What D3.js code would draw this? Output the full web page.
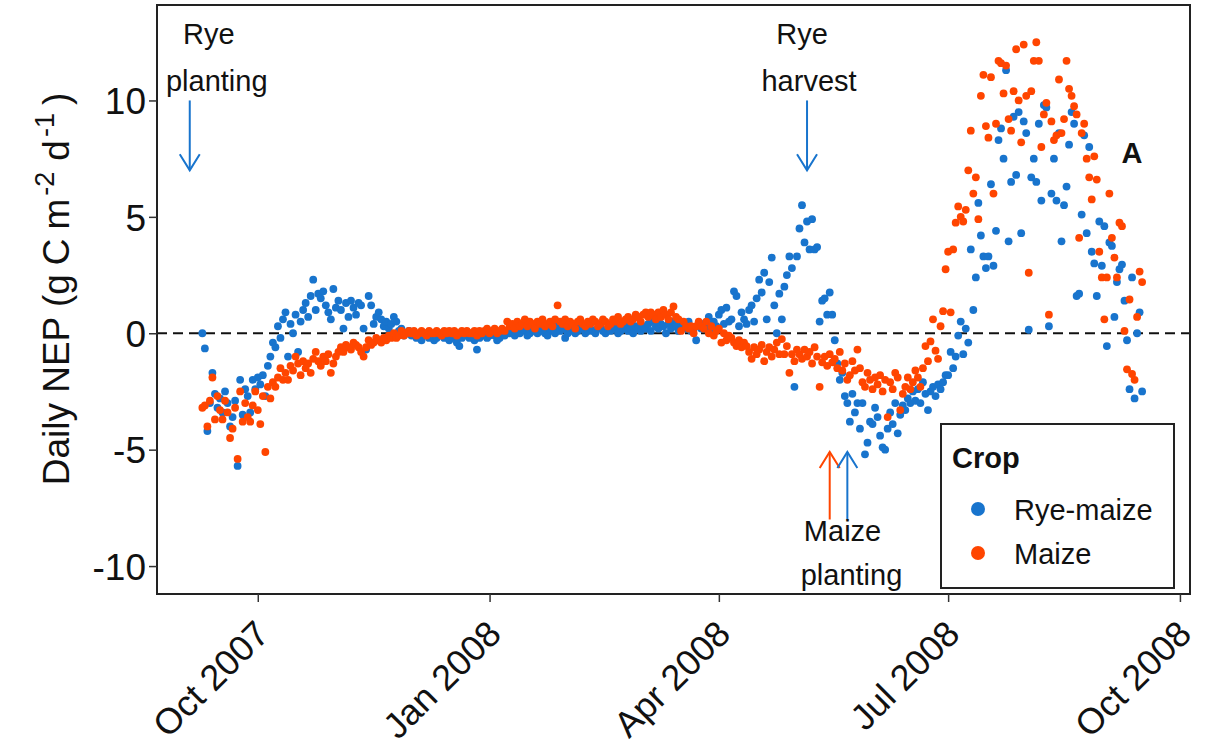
<!DOCTYPE html>
<html>
<head>
<meta charset="utf-8">
<script src="https://cdn.jsdelivr.net/npm/d3@7/dist/d3.min.js"></script>
<style>
  body { margin: 0; background: #ffffff; }
  svg { display: block; }
  text { font-family: Arial, "Liberation Sans", sans-serif; fill: #111; }
</style>
</head>
<body>
<svg id="chart" width="1209" height="747"></svg>
<script>
// Daily net ecosystem production, one value per day from the start date on.
const startDate = "2007-09-09";

// Rye-maize rotation (g C m-2 d-1), rows of ten days
const ryeMaize = [
  0.0, -0.65, -4.2, -3.0, -1.7, -2.6, -3.2, -2.8, -3.4, -2.5,
  -3.0, -4.0, -3.6, -2.9, -5.7, -2.0, -3.5, -2.4, -2.7, -3.4,
  -2.0, -2.4, -1.9, -2.2, -1.8, -2.7, -1.4, -1.0, -0.4, -0.6,
  0.3, -0.2, 0.6, 0.9, -1.0, 0.4, 0.0, 0.8, -0.8, 0.5,
  1.0, 1.3, 0.7, 1.6, 2.3, 1.0, 1.7, 1.5, 1.8, 1.2,
  0.9, 0.6, 1.9, 1.1, 1.4, 1.0, 0.2, 1.3, 0.7, 1.4,
  1.1, 0.8, 1.3, 1.2, 0.2, -0.7, 1.6, 1.2, 0.4, 0.7,
  0.9, 0.6, 0.3, 0.5, 0.2, 0.4, 0.7, 0.5, 0.1, 0.2,
  -0.1, 0.0, 0.1, -0.1, 0.0, -0.2, -0.1, -0.3, -0.1, 0.0,
  -0.2, -0.1, -0.3, -0.2, 0.0, -0.1, -0.2, -0.1, -0.3, -0.2,
  -0.1, -0.4, -0.55, -0.2, -0.1, 0.0, -0.2, -0.1, -0.3, -0.7,
  -0.2, -0.1, 0.0, -0.2, -0.1, 0.0, -0.1, -0.3, -0.2, 0.0,
  -0.1, 0.1, 0.0, 0.2, -0.1, 0.1, 0.0, 0.2, 0.1, -0.1,
  0.0, 0.2, 0.1, 0.0, 0.3, 0.1, 0.0, -0.1, 0.2, 0.1,
  0.0, 0.3, 0.1, 0.2, -0.2, 0.0, 0.1, 0.2, 0.0, 0.1,
  0.3, 0.2, 0.0, 0.1, 0.2, 0.1, 0.0, 0.2, 0.3, 0.1,
  0.0, 0.2, 0.1, 0.3, 0.2, 0.0, 0.1, 0.2, 0.3, 0.1,
  0.2, 0.0, 0.3, 0.2, 0.1, 0.3, 0.2, 0.4, 0.1, 0.5,
  0.3, 0.2, 0.4, 0.3, 0.0, 0.4, 0.2, 0.5, 0.3, 0.1,
  0.4, 0.3, 0.2, 0.5, 0.1, 0.2, -0.3, 0.3, 0.2, 0.4,
  0.3, 0.7, 0.2, 0.5, 0.3, 0.8, 1.0, 0.4, 1.1, 0.5,
  0.6, 1.8, 1.6, 0.3, 0.9, 0.6, 0.4, 1.0, 1.2, 0.5,
  1.5, 2.3, 1.75, 2.6, 0.6, 2.2, 3.25, 1.2, 0.0, 1.7,
  0.6, 2.0, 2.5, 3.3, 2.8, -2.3, 3.3, 4.5, 5.5, 3.9,
  4.8, 3.6, 4.9, 3.6, 3.7, 0.5, 1.4, 1.5, 0.8, 1.75,
  0.8, -0.3, -1.3, -2.0, -1.7, -2.7, -3.0, -3.8, -2.6, -3.4,
  -3.0, -4.1, -3.0, -5.2, -4.7, -3.8, -3.9, -3.2, -3.6, -4.4,
  -4.9, -5.0, -4.1, -3.4, -3.9, -3.0, -4.3, -3.5, -3.1, -3.3,
  -2.8, -3.0, -2.5, -2.9, -2.4, -3.0, -2.1, -2.6, -3.3, -2.5,
  -2.3, -2.7, -2.2, -2.4, -2.1, -1.8, -1.8, -0.8, -1.5, -1.0,
  -0.1, 0.5, -0.9, 0.2, -0.4, 3.6, 1.0, 2.4, 5.6, 4.2,
  3.3, 2.8, 3.3, 6.4, 2.9, 4.4, 8.3, 8.8, 7.5, 11.3,
  3.95, 6.5, 9.3, 6.8, 9.5, 4.3, 9.1, 8.6, 0.15, 6.7,
  7.5, 6.5, 9.0, 5.7, 9.8, 9.7, 0.3, 6.0, 7.5, 5.7,
  8.6, 3.95, 5.5, 6.3, 8.1, 9.5, 9.0, 1.6, 1.7, 5.1,
  8.5, 4.3, 8.0, 3.5, 3.0, 1.6, 4.8, 2.9, 4.6, -0.55,
  3.9, 3.75, 0.7, 2.2, 2.75, 2.95, 1.4, -0.3, -2.4, 2.4,
  -2.8, 0.0, 0.9, -2.5
];

// Continuous maize (g C m-2 d-1), same days
const maize = [
  -3.2, -3.1, -4.0, -2.9, -1.9, -3.7, -2.7, -3.3, -3.7, -2.9,
  -3.4, -4.5, -4.1, -3.2, -5.4, -2.5, -3.8, -3.0, -3.6, -3.8,
  -3.1, -2.5, -3.3, -3.9, -2.7, -5.1, -2.3, -2.8, -2.1, -2.3,
  -1.9, -1.5, -2.0, -1.7, -2.0, -1.4, -1.6, -1.0, -1.3, -1.8,
  -1.2, -1.5, -1.3, -1.7, -1.1, -0.8, -1.2, -1.4, -1.0, -1.2,
  -0.9, -1.7, -1.3, -1.0, -0.8, -0.6, -0.8, -0.5, -0.6, -0.7,
  -0.4, -0.5, -0.6, -0.8, -1.0, -0.6, -0.3, -0.5, -0.4, -0.2,
  -0.3, -0.4, -0.2, -0.3, -0.1, -0.2, 0.0, -0.2, -0.1, 0.1,
  -0.1, 0.0, 0.1, 0.0, 0.1, -0.1, 0.0, 0.1, 0.0, -0.1,
  0.1, 0.0, 0.0, 0.1, 0.0, -0.1, 0.1, 0.0, 0.1, 0.0,
  0.1, -0.1, 0.0, 0.1, 0.0, 0.1, 0.0, 0.0, 0.1, -0.1,
  0.1, 0.0, 0.1, 0.2, 0.0, 0.1, 0.2, 0.0, 0.1, 0.2,
  0.1, 0.5, 0.3, 0.4, 0.2, 0.5, 0.3, 0.4, 0.6, 0.3,
  0.5, 0.4, 0.2, 0.5, 0.4, 0.6, 0.3, 0.4, 0.5, 0.3,
  0.6, 1.2, 0.5, 0.4, 0.6, 0.3, 0.5, 0.4, 0.2, 0.5,
  0.6, 0.4, 0.3, 0.5, 0.4, 0.6, 0.5, 0.3, 0.4, 0.6,
  0.5, 0.3, 0.4, 0.6, 0.5, 0.7, 0.4, 0.5, 0.6, 0.7,
  0.5, 0.6, 0.8, 0.7, 0.5, 0.8, 0.9, 0.7, 0.9, 0.8,
  0.6, 0.9, 0.7, 1.0, 0.8, 0.6, 0.9, 1.15, 0.7, 0.6,
  0.1, 0.5, 0.3, 0.2, 0.3, 0.0, 0.3, 0.5, 0.3, 0.2,
  0.5, 0.0, 0.3, -0.1, 0.1, 0.2, -0.4, 0.0, -0.3, -0.1,
  -0.2, -0.4, -0.55, -0.3, -0.6, -0.4, -0.55, -0.8, -1.1, -0.6,
  -0.9, -0.7, -0.5, -1.2, -0.8, -0.6, -1.0, -0.7, -0.4, -0.9,
  -0.25, -0.9, -0.55, -1.7, -0.9, -1.2, -0.7, -0.9, -1.1, -0.7,
  -1.0, -0.8, -1.3, -0.6, -1.0, -2.3, -1.25, -1.0, -1.4, -0.9,
  -1.25, -1.1, -1.5, -0.8, -1.6, -1.3, -2.0, -1.8, -1.2, -1.6,
  -0.7, -1.5, -2.1, -2.3, -1.7, -2.0, -2.4, -1.9, -2.2, -1.8,
  -2.5, -2.0, -3.6, -2.1, -2.4, -1.7, -1.9, -3.3, -2.6, -2.3,
  -1.9, -2.4, -2.1, -1.6, -1.9, -2.3, -1.5, -0.55, -1.2, -0.35,
  0.6, -0.75, -1.1, 0.3, 0.95, 2.75, 3.5, 0.9, 3.6, 4.75,
  5.45, 5.0, 4.8, 5.3, 7.0, 8.7, 6.0, 6.7, 4.9, 10.2,
  11.1, 8.9, 8.4, 11.0, 6.0, 9.0, 11.7, 11.6, 10.3, 11.5,
  9.2, 8.7, 10.4, 12.2, 10.0, 8.2, 12.4, 10.2, 2.6, 10.4,
  11.7, 12.5, 11.7, 8.0, 9.4, 9.9, 0.8, 9.1, 8.3, 8.5,
  10.9, 8.6, 9.2, 11.7, 10.5, 10.2, 9.75, 9.4, 4.1, 8.6,
  9.0, 7.5, 6.7, 5.75, 7.6, 6.6, 3.5, 2.4, 0.6, 2.4,
  6.0, 4.1, 3.25, 2.4, 4.75, 4.6, 0.1, -1.55, 1.45, -1.75,
  -2.0, 0.7, 2.65, 2.2
];

const crops = ["Rye-maize", "Maize"];
const cropColors = ["#1874CD", "#FF4500"];

const yTicks = [-10, -5, 0, 5, 10];
const xTickDates = ["2007-10-01", "2008-01-01", "2008-04-01", "2008-07-01", "2008-10-01"];
const xTickLabels = ["Oct 2007", "Jan 2008", "Apr 2008", "Jul 2008", "Oct 2008"];

// Management events: date, which crop's arrow colour, arrow span (NEP units)
const eventDates = ["2007-09-04", "2008-05-06", "2008-05-15", "2008-05-22"];
const eventCrops = ["Rye-maize", "Rye-maize", "Maize", "Rye-maize"];
const eventFrom = [10, 10, -8, -8];
const eventTo = [7, 7, -5.1, -5.1];

// ---------------------------------------------------------------------------
const parse = d3.utcParse("%Y-%m-%d");
const panel = { left: 157, right: 1190, top: 5, bottom: 594 };

const x = d3.scaleUtc()
  .domain([parse("2007-08-22"), parse("2008-10-05")])
  .range([panel.left, panel.right]);
const y = d3.scaleLinear()
  .domain([-11.2, 14.1])
  .range([panel.bottom, panel.top]);
const color = d3.scaleOrdinal().domain(crops).range(cropColors);

const svg = d3.select("#chart");

function toPoints(values, crop) {
  const s = parse(startDate);
  return values.map((v, i) => ({ date: d3.utcDay.offset(s, i), value: v, crop }))
    .filter(d => d.value != null);
}

svg.append("defs").append("clipPath").attr("id", "plot-clip")
  .append("rect")
  .attr("x", panel.left).attr("y", panel.top)
  .attr("width", panel.right - panel.left).attr("height", panel.bottom - panel.top);

// zero reference line
svg.append("line")
  .attr("x1", panel.left).attr("x2", panel.right)
  .attr("y1", y(0)).attr("y2", y(0))
  .attr("stroke", "#111").attr("stroke-width", 2.2)
  .attr("stroke-dasharray", "10,6");

// daily points, rotation first, continuous maize on top
const points = svg.append("g").attr("clip-path", "url(#plot-clip)");
[[ryeMaize, "Rye-maize"], [maize, "Maize"]].forEach(([vals, crop]) => {
  points.append("g").selectAll("circle")
    .data(toPoints(vals, crop))
    .join("circle")
    .attr("cx", d => x(d.date))
    .attr("cy", d => y(d.value))
    .attr("r", 3.9)
    .attr("fill", d => color(d.crop));
});

// panel border
svg.append("rect")
  .attr("x", panel.left).attr("y", panel.top)
  .attr("width", panel.right - panel.left).attr("height", panel.bottom - panel.top)
  .attr("fill", "none").attr("stroke", "#222").attr("stroke-width", 2);

// y axis
const yAxis = svg.append("g")
  .attr("transform", `translate(${panel.left},0)`)
  .call(d3.axisLeft(y).tickValues(yTicks).tickSize(8).tickPadding(3).tickFormat(d => String(d)));
yAxis.select(".domain").remove();
yAxis.selectAll(".tick line").attr("stroke", "#333").attr("stroke-width", 1.5);
yAxis.selectAll(".tick text")
  .style("font-size", "37px").style("font-family", "Arial, 'Liberation Sans', sans-serif")
  .attr("fill", "#111").attr("dy", "0.36em");

// x axis
const xAxis = svg.append("g")
  .attr("transform", `translate(0,${panel.bottom})`)
  .call(d3.axisBottom(x).tickValues(xTickDates.map(parse)).tickSize(8)
    .tickFormat((d, i) => xTickLabels[i]));
xAxis.select(".domain").remove();
xAxis.selectAll(".tick line").attr("stroke", "#333").attr("stroke-width", 1.5);
xAxis.selectAll(".tick text")
  .style("font-size", "36px").style("font-family", "Arial, 'Liberation Sans', sans-serif")
  .attr("fill", "#111")
  .attr("x", 0).attr("y", 0).attr("dy", null)
  .attr("text-anchor", "end")
  .attr("transform", "translate(13,42) rotate(-45)");

// y axis title with superscripts
const title = svg.append("text")
  .attr("transform", `translate(69,289) rotate(-90)`)
  .attr("text-anchor", "middle")
  .style("font-size", "37px");
title.append("tspan").text("Daily NEP (g");
title.append("tspan").attr("dx", 9).text("C");
title.append("tspan").attr("dx", 9).text("m");
title.append("tspan").attr("dx", 3).attr("dy", -15).style("font-size", "27px").text("-2");
title.append("tspan").attr("dx", 11).attr("dy", 15).text("d");
title.append("tspan").attr("dx", 3).attr("dy", -15).style("font-size", "27px").text("-1");
title.append("tspan").attr("dx", 8).attr("dy", 15).text(")");

// event arrows
const arrowG = svg.append("g");
eventDates.forEach((ds, i) => {
  const ax = x(parse(ds));
  const y0 = y(eventFrom[i]), y1 = y(eventTo[i]);
  const dir = y1 > y0 ? 1 : -1;
  const c = color(eventCrops[i]);
  arrowG.append("line")
    .attr("x1", ax).attr("x2", ax).attr("y1", y0).attr("y2", y1)
    .attr("stroke", c).attr("stroke-width", 2);
  arrowG.append("path")
    .attr("d", `M${ax - 10},${y1 - dir * 16}L${ax},${y1}L${ax + 10},${y1 - dir * 16}`)
    .attr("fill", "none").attr("stroke", c).attr("stroke-width", 2);
});

// event labels
const labelSize = "29px";
function label(txt, cx, cy, bold) {
  svg.append("text").attr("x", cx).attr("y", cy)
    .attr("text-anchor", "middle")
    .style("font-size", labelSize)
    .style("font-weight", bold ? "bold" : "normal")
    .text(txt);
}
const xPlant = x(parse(eventDates[0]));
const xHarvest = x(parse(eventDates[1]));
const xMaize = (x(parse(eventDates[2])) + x(parse(eventDates[3]))) / 2;
label("Rye", xPlant + 19, 44);
label("planting", xPlant + 27, 91);
label("Rye", xHarvest - 5, 44);
label("harvest", xHarvest + 2, 91);
label("Maize", xMaize + 4, 541);
label("planting", xMaize + 13, 585);
label("A", 1132, 163, true);

// legend
const lg = svg.append("g").attr("transform", "translate(941,424)");
lg.append("rect").attr("width", 233).attr("height", 164)
  .attr("fill", "#fff").attr("stroke", "#222").attr("stroke-width", 2);
lg.append("text").attr("x", 11).attr("y", 44)
  .style("font-size", "29px").style("font-weight", "bold").text("Crop");
crops.forEach((c, i) => {
  lg.append("circle").attr("cx", 37).attr("cy", 85 + i * 44).attr("r", 7).attr("fill", color(c));
  lg.append("text").attr("x", 73).attr("y", 96 + i * 44)
    .style("font-size", "29px").text(c);
});
</script>
</body>
</html>
